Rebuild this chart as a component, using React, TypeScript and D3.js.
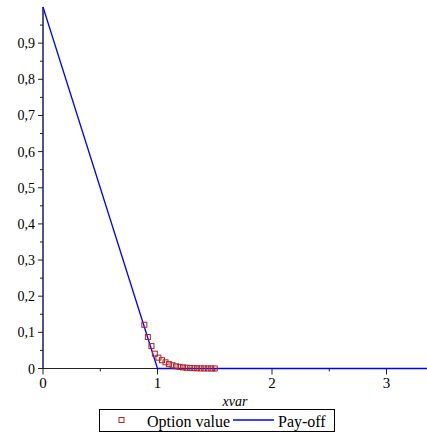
import React, { useRef, useEffect } from 'react';
import * as d3 from 'd3';

const optionX = [0.885, 0.916, 0.947, 0.977, 1.008, 1.039, 1.07, 1.1, 1.131, 1.162, 1.193,
  1.223, 1.254, 1.285, 1.316, 1.346, 1.377, 1.408, 1.439, 1.469, 1.5];
const optionY = [0.121, 0.087, 0.062, 0.041, 0.03, 0.023, 0.017, 0.012, 0.009, 0.006, 0.0045,
  0.003, 0.002, 0.0015, 0.001, 0.0007, 0.0005, 0.0003, 0.0002, 0.0001, 0.0001];
const payoffX = [0, 1, 3.36];
const payoffY = [1, 0, 0];
const xTicks = [0, 1, 2, 3];
const yTicks = [0, 0.1, 0.2, 0.3, 0.4, 0.5, 0.6, 0.7, 0.8, 0.9];

const App = () => {
  const ref = useRef(null);

  useEffect(() => {
    const svg = d3.select(ref.current);
    svg.selectAll('*').remove();
    svg.style('font-family', "'Liberation Serif', 'DejaVu Serif', serif");

    const x = d3.scaleLinear().domain([0, 1]).range([43, 157.5]);
    const y = d3.scaleLinear().domain([0, 1]).range([368.5, 7]);
    const xMax = x.invert(427);

    // x axis
    const g = svg.append('g');
    g.append('line').attr('x1', x(0)).attr('x2', 427).attr('y1', y(0)).attr('y2', y(0))
      .attr('stroke', '#222').attr('stroke-width', 1);
    d3.range(0, xMax, 0.5).forEach((t, i) => {
      g.append('line').attr('x1', x(t)).attr('x2', x(t)).attr('y1', y(0))
        .attr('y2', y(0) + (i % 2 === 0 ? 6 : 3)).attr('stroke', '#222');
    });
    xTicks.forEach(t => {
      g.append('text').attr('x', x(t)).attr('y', 388).attr('text-anchor', 'middle')
        .attr('font-size', 15).text(String(t));
    });
    g.append('text').attr('x', 235).attr('y', 406).attr('text-anchor', 'middle')
      .attr('font-style', 'italic').attr('font-size', 14).text('xvar');

    // y axis
    g.append('line').attr('x1', x(0)).attr('x2', x(0)).attr('y1', y(0)).attr('y2', y(1))
      .attr('stroke', '#1c1c5c').attr('stroke-width', 1.5);
    d3.range(0, 20).forEach(i => {
      const t = i * 0.05;
      g.append('line').attr('x1', x(0)).attr('x2', x(0) - (i % 2 === 0 ? 5 : 3))
        .attr('y1', y(t)).attr('y2', y(t)).attr('stroke', '#222');
    });
    yTicks.forEach(t => {
      g.append('text').attr('x', 35).attr('y', y(t) + 5).attr('text-anchor', 'end')
        .attr('font-size', 14)
        .text(t === 0 ? '0' : d3.format('.1f')(t).replace('.', ','));
    });

    // pay-off line
    const line = d3.line<number>().x(d => x(payoffX[d])).y(d => y(payoffY[d]));
    svg.append('path').datum(d3.range(payoffX.length)).attr('d', line)
      .attr('fill', 'none').attr('stroke', '#0000ff').attr('stroke-width', 1.3);

    // option value points
    svg.append('g').selectAll('rect').data(optionX).join('rect')
      .attr('x', d => x(d) - 2.5).attr('y', (d, i) => y(optionY[i]) - 2.5)
      .attr('width', 5).attr('height', 5)
      .attr('fill', 'none').attr('stroke', '#b22222').attr('stroke-width', 1);

    // legend
    const lg = svg.append('g');
    lg.append('rect').attr('x', 99.5).attr('y', 409.5).attr('width', 235).attr('height', 22)
      .attr('fill', 'white').attr('stroke', 'black').attr('stroke-width', 1);
    lg.append('rect').attr('x', 119).attr('y', 417.5).attr('width', 5).attr('height', 5)
      .attr('fill', 'none').attr('stroke', '#b22222');
    lg.append('text').attr('x', 147).attr('y', 427).attr('font-size', 16)
      .text('Option value');
    lg.append('line').attr('x1', 233).attr('x2', 274).attr('y1', 420).attr('y2', 420)
      .attr('stroke', '#0000ff').attr('stroke-width', 1.3);
    lg.append('text').attr('x', 278).attr('y', 427).attr('font-size', 16)
      .text('Pay-off');
  }, []);

  return (
    <svg ref={ref} width={427} height={434}
      style={{ position: 'absolute', left: 0, top: 0, background: 'white' }} />
  );
};

export default App;
